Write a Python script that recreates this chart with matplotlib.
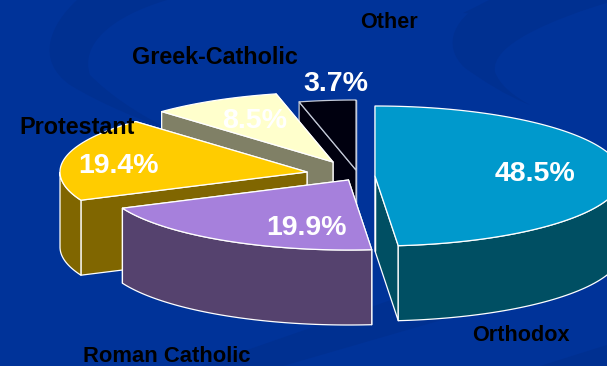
#!/usr/bin/env python3
"""Exploded 3D-look pie of religious affiliation, drawn by hand from patches."""
import numpy as np
import matplotlib
matplotlib.use('Agg')
import matplotlib.pyplot as plt
from matplotlib.patches import Polygon, PathPatch
from matplotlib.path import Path

plt.rcParams['font.family'] = ['Liberation Sans', 'DejaVu Sans']

# slices run clockwise from 12 o'clock
NAMES = ['Orthodox', 'Roman Catholic', 'Protestant', 'Greek-Catholic', 'Other']
SHARES = [48.5, 19.9, 19.4, 8.5, 3.7]
TOP_COLORS = ['#0099cc', '#a680dc', '#ffcc00', '#ffffcc', '#00000f']
SIDE_COLORS = ['#004f63', '#55426e', '#806600', '#808066', '#00000f']
EDGE_COLORS = ['white', 'white', 'white', 'white', '#c4cad8']

# apex of each slice once pulled out of the pie
APEX = [(375, 176), (348.5, 180), (307, 172), (333, 162), (356, 170)]
RX, RY, DEPTH = 247, 70, 75

NAME_POS = [(521, 335.5), (167, 356.5), (77, 128), (215, 58), (389, 22.5)]
NAME_SIZE = [15.6, 15.8, 16.8, 16.8, 15.6]
PCT_POS = [(535, 174), (306, 228), (119, 166), (255, 121), (336, 84)]

BG = '#003399'
BG_DARK = '#003091'


def rim(apex, a0, a1, n=120):
    t = np.radians(np.linspace(a0, a1, n))
    return np.column_stack([apex[0] + RX * np.sin(t), apex[1] - RY * np.cos(t)])


def extrude(pts):
    low = pts[::-1] + [0, DEPTH]
    return np.vstack([pts, low])


def sweep(ax, outer, inner):
    # crescent between two smooth curves that meet at the tip
    verts = outer + inner[::-1][1:]
    codes = [Path.MOVETO] + [Path.CURVE4] * (len(verts) - 1)
    ax.add_patch(PathPatch(Path(verts, codes), fc=BG_DARK, ec='none', zorder=0))


fig = plt.figure(figsize=(6.07, 3.66), dpi=100, facecolor=BG)
ax = fig.add_axes([0, 0, 1, 1])
ax.set_xlim(0, 607)
ax.set_ylim(366, 0)
ax.axis('off')

# darker sweeps in the slide background
sweep(ax, [(77, 0), (50, 25), (35, 60), (70, 85), (100, 103), (135, 118), (170, 130)],
      [(167, 0), (110, 17), (80, 45), (90, 75), (110, 95), (135, 112), (170, 130)])
sweep(ax, [(490, 0), (455, 15), (440, 45), (465, 68), (485, 82), (505, 95), (530, 105)],
      [(615, 0), (550, 20), (490, 45), (495, 72), (500, 85), (512, 95), (530, 105)])
ax.add_patch(Polygon([(490, 0), (615, 0), (550, 20), (463, 13)], fc=BG_DARK, ec='none', zorder=0))
ax.add_patch(Polygon([(201, 366), (607, 225), (607, 272), (283, 366)], fc=BG_DARK, ec='none', zorder=0))
ax.add_patch(Polygon([(540, 366), (607, 345), (607, 366)], fc=BG_DARK, ec='none', zorder=0))

cum = np.cumsum([0] + SHARES) / sum(SHARES) * 360
# back slices first so the front ones overlap them
for i in [4, 3, 2, 1, 0]:
    a0, a1 = cum[i], cum[i + 1]
    apex = APEX[i]
    arc = rim(apex, a0, a1)
    edge = dict(ec=EDGE_COLORS[i], lw=0.9, joinstyle='round', zorder=6 - i)

    for end in (arc[-1], arc[0]):
        ax.add_patch(Polygon(extrude(np.array([apex, end])), fc=SIDE_COLORS[i], **edge))
    t = np.linspace(a0, a1, 120)
    front = arc[np.cos(np.radians(t)) < 0]
    if len(front):
        ax.add_patch(Polygon(extrude(front), fc=SIDE_COLORS[i], **edge))
    ax.add_patch(Polygon(np.vstack([[apex], arc]), fc=TOP_COLORS[i], **edge))

for i in range(5):
    ax.text(*NAME_POS[i], NAMES[i], color='black', fontsize=NAME_SIZE[i], fontweight='bold',
            ha='center', va='center', zorder=20)
    ax.text(*PCT_POS[i], f'{SHARES[i]:.1f}%', color='white', fontsize=20.5, fontweight='bold',
            ha='center', va='center', zorder=20)

fig.savefig('out.png', dpi=100, facecolor=BG)
